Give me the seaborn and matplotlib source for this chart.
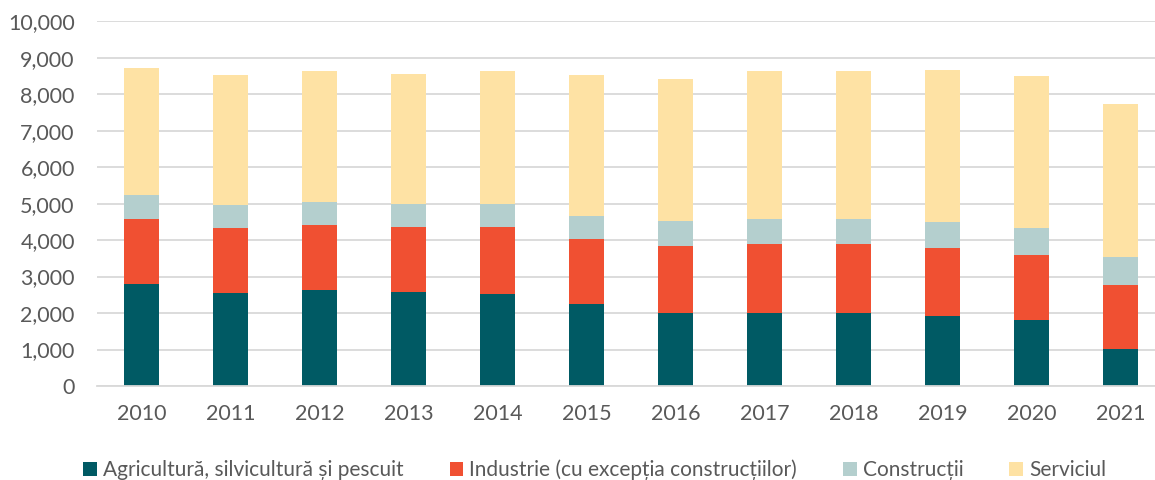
import matplotlib
matplotlib.use("Agg")
import numpy as np
import pandas as pd
import matplotlib.pyplot as plt
import seaborn as sns
from matplotlib.ticker import FuncFormatter
from matplotlib.patches import Patch

years = ["2010", "2011", "2012", "2013", "2014", "2015",
         "2016", "2017", "2018", "2019", "2020", "2021"]
agricultura = [2806, 2559, 2642, 2587, 2532, 2258, 2011, 2011, 2011, 1929, 1819, 1015]
industrie = [1774, 1783, 1773, 1773, 1828, 1782, 1837, 1892, 1892, 1864, 1764, 1746]
constructii = [658, 631, 631, 622, 640, 631, 668, 686, 677, 713, 750, 767]
servicii = [3482, 3546, 3592, 3583, 3638, 3848, 3903, 4040, 4058, 4150, 4159, 4205]

series_names = ["Agricultură, silvicultură și pescuit",
                "Industrie (cu excepția construcțiilor)",
                "Construcții",
                "Serviciul"]
colors = ["#005A64", "#F05032", "#B4CFCE", "#FEE2A4"]

sns.set_theme(style="white")
plt.rcParams['font.family'] = ['Lato', 'DejaVu Sans']

fig = plt.figure(figsize=(11.55, 4.8), dpi=100)
ax = fig.add_axes([97 / 1155, 94 / 480, 1068 / 1155, 364.7 / 480])

bottom = np.zeros(len(years))
for name, vals, col in zip(series_names,
                           [agricultura, industrie, constructii, servicii], colors):
    df = pd.DataFrame({"year": years, "value": vals})
    sns.barplot(data=df, x="year", y="value", color=col, width=0.4,
                bottom=bottom, ax=ax, saturation=1, linewidth=0, errorbar=None)
    bottom = bottom + np.array(vals)

ax.set_ylim(0, 10000)
ax.set_xlim(-0.5, len(years) - 0.5)
ax.set_yticks(range(0, 10001, 1000))
ax.yaxis.set_major_formatter(FuncFormatter(lambda v, p: f"{int(v):,}"))
ax.grid(axis="y", color="#D9D9D9", linewidth=1.3)
ax.set_axisbelow(True)
for s in ["top", "right", "left"]:
    ax.spines[s].set_visible(False)
ax.spines["bottom"].set_color("#D9D9D9")
ax.spines["bottom"].set_linewidth(1.3)
ax.set_xlabel("")
ax.set_ylabel("")
ax.tick_params(axis="y", length=0, pad=16, labelsize=15.5, labelcolor="#595959")
ax.tick_params(axis="x", length=0, pad=13, labelsize=15.5, labelcolor="#595959")

handles = [Patch(facecolor=c, edgecolor="none") for c in colors]
fig.legend(handles, series_names, loc="lower center", bbox_to_anchor=(0.515, -0.04),
           ncol=4, frameon=False, fontsize=15, handlelength=0.65, handleheight=0.65,
           handletextpad=0.3, columnspacing=2.2, labelcolor="#595959")

fig.savefig("out.png", dpi=100)
